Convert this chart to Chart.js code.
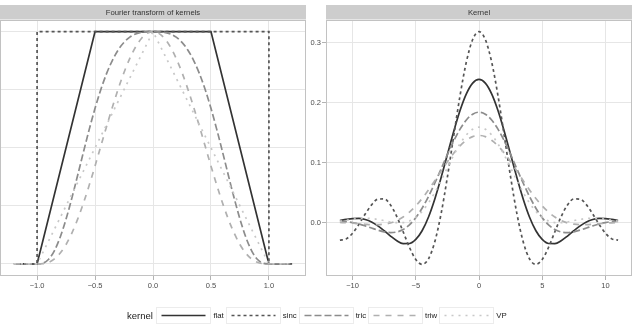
<!DOCTYPE html>
<html>
<head>
<meta charset="utf-8">
<script src="https://cdn.jsdelivr.net/npm/chart.js@4.4.1/dist/chart.umd.min.js"></script>
<style>
  body { margin: 0; background: #fff; width: 636px; height: 328px; position: relative; overflow: hidden;
         font-family: "Liberation Sans", Arial, sans-serif; }
  #ft { position: absolute; left: 0; top: 0; }
  #kern { position: absolute; left: 306px; top: 0; }
  #legend { position: absolute; left: 127px; top: 307px; height: 17px; display: flex; align-items: center;
            will-change: transform; -webkit-font-smoothing: antialiased; }
  #legend .title { font-size: 9.5px; color: #1a1a1a; margin-right: 3.5px; }
  #legend .key { width: 55px; height: 17px; box-sizing: border-box; border: 1px solid #ececec; }
  #legend .key svg { display: block; }
  #legend .lab { font-size: 7.8px; color: #1a1a1a; margin: 0 2px 0 2px; }
</style>
</head>
<body>
<canvas id="ft" width="310" height="296"></canvas>
<canvas id="kern" width="330" height="296"></canvas>
<div id="legend"></div>
<script>
// series names and styles
const kernels = ['flat', 'sinc', 'tric', 'triw', 'VP'];
const colours = ['#333333', '#555555', '#8c8c8c', '#b0b0b0', '#c8c8c8'];
const dashes = [[], [3, 3], [7, 3], [6, 6], [2, 5]];

// left panel: Fourier transforms
const ftTicks = [-1, -0.5, 0, 0.5, 1];
const ftGrid = [0, 0.25, 0.5, 0.75, 1];
const ftFlatX = [-1.2, -1, -0.5, 0.5, 1, 1.2];
const ftFlatY = [0, 0, 1, 1, 0, 0];
const ftSincX = [-1.2, -1, -1, 1, 1, 1.2];
const ftSincY = [0, 0, 1, 1, 0, 0];
const ftVpX = [-1.2, -1, 0, 1, 1.2];
const ftVpY = [0, 0, 1, 0, 0];
const ftX = [-1.2, -1.15, -1.1, -1.05, -1, -0.95, -0.9, -0.85, -0.8, -0.75, -0.7, -0.65, -0.6, -0.55, -0.5,
  -0.45, -0.4, -0.35, -0.3, -0.25, -0.2, -0.15, -0.1, -0.05, 0, 0.05, 0.1, 0.15, 0.2, 0.25, 0.3, 0.35, 0.4,
  0.45, 0.5, 0.55, 0.6, 0.65, 0.7, 0.75, 0.8, 0.85, 0.9, 0.95, 1, 1.05, 1.1, 1.15, 1.2];
const ftTric = [0, 0, 0, 0, 0, 0.0029, 0.0199, 0.0575, 0.1162, 0.1932, 0.2836, 0.3817, 0.4819, 0.5793, 0.6699,
  0.7508, 0.8200, 0.8767, 0.9212, 0.9539, 0.9762, 0.9899, 0.9970, 0.9996, 1, 0.9996, 0.9970, 0.9899, 0.9762,
  0.9539, 0.9212, 0.8767, 0.8200, 0.7508, 0.6699, 0.5793, 0.4819, 0.3817, 0.2836, 0.1932, 0.1162, 0.0575,
  0.0199, 0.0029, 0, 0, 0, 0, 0];
const ftTriw = [0, 0, 0, 0, 0, 0.0009, 0.0069, 0.0214, 0.0467, 0.0837, 0.1327, 0.1926, 0.2621, 0.3393, 0.4219,
  0.5072, 0.5927, 0.6757, 0.7536, 0.8240, 0.8847, 0.9340, 0.9703, 0.9925, 1, 0.9925, 0.9703, 0.9340, 0.8847,
  0.8240, 0.7536, 0.6757, 0.5927, 0.5072, 0.4219, 0.3393, 0.2621, 0.1926, 0.1327, 0.0837, 0.0467, 0.0214,
  0.0069, 0.0009, 0, 0, 0, 0, 0];

// right panel: kernels
const kTicks = [-10, -5, 0, 5, 10];
const kYTicks = [0, 0.1, 0.2, 0.3];
const kX = [-11, -10.5, -10, -9.5, -9, -8.5, -8, -7.5, -7, -6.5, -6, -5.5, -5, -4.5, -4, -3.5, -3, -2.5, -2,
  -1.5, -1, -0.5, 0, 0.5, 1, 1.5, 2, 2.5, 3, 3.5, 4, 4.5, 5, 5.5, 6, 6.5, 7, 7.5, 8, 8.5, 9, 9.5, 10, 10.5, 11];
const kFlat = [0.0037, 0.0057, 0.0071, 0.0073, 0.0055, 0.0014, -0.0051, -0.0132, -0.0220, -0.0297, -0.0345,
  -0.0344, -0.0276, -0.0131, 0.0094, 0.0394, 0.0750, 0.1137, 0.1522, 0.1870, 0.2147, 0.2326, 0.2387, 0.2326,
  0.2147, 0.1870, 0.1522, 0.1137, 0.0750, 0.0394, 0.0094, -0.0131, -0.0276, -0.0344, -0.0345, -0.0297, -0.0220,
  -0.0132, -0.0051, 0.0014, 0.0055, 0.0073, 0.0071, 0.0057, 0.0037];
const kSinc = [-0.0289, -0.0267, -0.0173, -0.0025, 0.0146, 0.0299, 0.0394, 0.0398, 0.0299, 0.0105, -0.0148,
  -0.0408, -0.0610, -0.0691, -0.0602, -0.0319, 0.0150, 0.0762, 0.1447, 0.2117, 0.2679, 0.3052, 0.3183, 0.3052,
  0.2679, 0.2117, 0.1447, 0.0762, 0.0150, -0.0319, -0.0602, -0.0691, -0.0610, -0.0408, -0.0148, 0.0105, 0.0299,
  0.0398, 0.0394, 0.0299, 0.0146, -0.0025, -0.0173, -0.0267, -0.0289];
const kTric = [0.0026, 0.0020, 0.0005, -0.0018, -0.0050, -0.0086, -0.0121, -0.0149, -0.0162, -0.0152, -0.0111,
  -0.0033, 0.0085, 0.0243, 0.0437, 0.0659, 0.0897, 0.1138, 0.1364, 0.1560, 0.1713, 0.1809, 0.1842, 0.1809,
  0.1713, 0.1560, 0.1364, 0.1138, 0.0897, 0.0659, 0.0437, 0.0243, 0.0085, -0.0033, -0.0111, -0.0152, -0.0162,
  -0.0149, -0.0121, -0.0086, -0.0050, -0.0018, 0.0005, 0.0020, 0.0026];
const kTriw = [0.0006, 0.0001, -0.0006, -0.0015, -0.0023, -0.0030, -0.0031, -0.0022, -0.0001, 0.0038, 0.0097,
  0.0178, 0.0281, 0.0405, 0.0547, 0.0701, 0.0860, 0.1016, 0.1160, 0.1282, 0.1376, 0.1435, 0.1455, 0.1435,
  0.1376, 0.1282, 0.1160, 0.1016, 0.0860, 0.0701, 0.0547, 0.0405, 0.0281, 0.0178, 0.0097, 0.0038, -0.0001,
  -0.0022, -0.0031, -0.0030, -0.0023, -0.0015, -0.0006, 0.0001, 0.0006];
const kVP = [0.0026, 0.0043, 0.0059, 0.0070, 0.0075, 0.0071, 0.0057, 0.0037, 0.0016, 0.0002, 0.0004, 0.0031,
  0.0091, 0.0190, 0.0329, 0.0503, 0.0704, 0.0917, 0.1127, 0.1315, 0.1463, 0.1559, 0.1592, 0.1559, 0.1463,
  0.1315, 0.1127, 0.0917, 0.0704, 0.0503, 0.0329, 0.0190, 0.0091, 0.0031, 0.0004, 0.0002, 0.0016, 0.0037,
  0.0057, 0.0071, 0.0075, 0.0070, 0.0059, 0.0043, 0.0026];

const font = { family: '"Liberation Sans", Arial, sans-serif', size: 7.5 };
const gridColour = '#e6e6e6';
const tickColour = '#b3b3b3';

const minus = s => s.replace('-', '\u2212');

function series(i, xs, ys, smooth) {
  return {
    label: kernels[i],
    data: xs.map((x, j) => ({ x: x, y: ys[j] })),
    borderColor: colours[i],
    borderWidth: 1.7,
    borderDash: dashes[i],
    pointRadius: 0,
    fill: false,
    tension: smooth ? 0.4 : 0,
    cubicInterpolationMode: smooth ? 'monotone' : 'default',
    order: kernels.length - i
  };
}

// grey strip with the panel title and the panel border
const panelFrame = {
  id: 'panelFrame',
  afterDraw(chart, args, opts) {
    const { ctx, chartArea: a } = chart;
    ctx.save();
    ctx.fillStyle = '#cdcdcd';
    ctx.fillRect(a.left, 5, a.right - a.left, 14.5);
    ctx.fillStyle = '#333333';
    ctx.font = '7.7px "Liberation Sans", Arial, sans-serif';
    ctx.textAlign = 'center';
    ctx.textBaseline = 'middle';
    ctx.fillText(opts.title, (a.left + a.right) / 2, 12.5);
    ctx.strokeStyle = '#c2c2c2';
    ctx.lineWidth = 1;
    ctx.strokeRect(a.left + 0.5, a.top + 0.5, a.right - a.left - 1, a.bottom - a.top - 1);
    ctx.restore();
  }
};

function xAxis(min, max, ticks, digits) {
  return {
    type: 'linear', min: min, max: max,
    afterBuildTicks: s => { s.ticks = ticks.map(v => ({ value: v })); },
    afterFit: s => { s.height = 20; },
    grid: { color: gridColour, tickLength: 4, tickColor: tickColour },
    border: { display: false },
    ticks: { callback: v => minus(v.toFixed(digits)), color: '#4d4d4d', font: font, padding: 1,
             maxRotation: 0, autoSkip: false }
  };
}

new Chart(document.getElementById('ft'), {
  type: 'line',
  data: {
    datasets: [
      series(0, ftFlatX, ftFlatY, false),
      series(1, ftSincX, ftSincY, false),
      series(2, ftX, ftTric, true),
      series(3, ftX, ftTriw, true),
      series(4, ftVpX, ftVpY, false)
    ]
  },
  options: {
    responsive: false,
    animation: false,
    layout: { padding: { top: 20, right: 4, left: 0, bottom: 0 } },
    plugins: { legend: { display: false }, tooltip: { enabled: false },
               panelFrame: { title: 'Fourier transform of kernels' } },
    scales: {
      x: xAxis(-1.32, 1.32, ftTicks, 1),
      y: {
        type: 'linear', min: -0.052, max: 1.05,
        afterBuildTicks: s => { s.ticks = ftGrid.map(v => ({ value: v })); },
        afterFit: s => { s.width = 0; },
        grid: { color: gridColour, drawTicks: false },
        border: { display: false },
        ticks: { display: false }
      }
    }
  },
  plugins: [panelFrame]
});

new Chart(document.getElementById('kern'), {
  type: 'line',
  data: {
    datasets: [
      series(0, kX, kFlat, true),
      series(1, kX, kSinc, true),
      series(2, kX, kTric, true),
      series(3, kX, kTriw, true),
      series(4, kX, kVP, true)
    ]
  },
  options: {
    responsive: false,
    animation: false,
    layout: { padding: { top: 20, right: 4, left: 0, bottom: 0 } },
    plugins: { legend: { display: false }, tooltip: { enabled: false },
               panelFrame: { title: 'Kernel' } },
    scales: {
      x: xAxis(-12.1, 12.1, kTicks, 0),
      y: {
        type: 'linear', min: -0.0885, max: 0.3377,
        afterBuildTicks: s => { s.ticks = kYTicks.map(v => ({ value: v })); },
        afterFit: s => { s.width = 20; },
        grid: { color: gridColour, tickLength: 4, tickColor: tickColour },
        border: { display: false },
        ticks: { callback: v => v.toFixed(1), color: '#4d4d4d', font: font, padding: 1 }
      }
    }
  },
  plugins: [panelFrame]
});

// legend
const legend = document.getElementById('legend');
let html = '<span class="title">kernel</span>';
kernels.forEach((k, i) => {
  html += '<span class="key"><svg width="53" height="15"><line x1="4.5" y1="7.5" x2="48.5" y2="7.5" stroke="' +
    colours[i] + '" stroke-width="1.6" stroke-dasharray="' + (dashes[i].length ? dashes[i].join(' ') : 'none') +
    '"/></svg></span><span class="lab">' + k + '</span>';
});
legend.innerHTML = html;
</script>
</body>
</html>
